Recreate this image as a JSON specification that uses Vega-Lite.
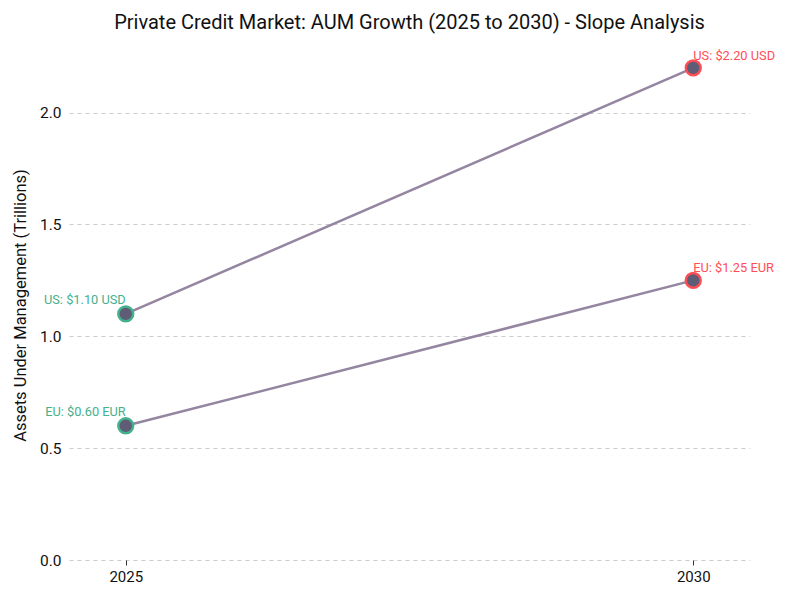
{
  "$schema": "https://vega.github.io/schema/vega-lite/v6.json",
  "autosize": "none",
  "width": 681,
  "height": 510,
  "padding": {"left": 69, "top": 50, "right": 50, "bottom": 40},
  "background": "white",
  "config": {
    "font": "Roboto",
    "view": {"stroke": null}
  },
  "title": {
    "text": "Private Credit Market: AUM Growth (2025 to 2030) - Slope Analysis",
    "fontSize": 20,
    "fontWeight": "normal",
    "color": "#111111",
    "offset": 17
  },
  "data": {
    "values": [
      {"region": "US", "year": 2025, "value": 1.10, "label": "US: $1.10 USD"},
      {"region": "US", "year": 2030, "value": 2.20, "label": "US: $2.20 USD"},
      {"region": "EU", "year": 2025, "value": 0.60, "label": "EU: $0.60 EUR"},
      {"region": "EU", "year": 2030, "value": 1.25, "label": "EU: $1.25 EUR"}
    ]
  },
  "encoding": {
    "x": {
      "field": "year", "type": "quantitative",
      "scale": {"domain": [2024.5, 2030.5], "nice": false, "zero": false},
      "axis": {"values": [2025, 2030], "format": "d", "title": null, "grid": false, "domain": false,
               "tickColor": "#333", "tickSize": 5, "labelFontSize": 15, "labelColor": "#111", "labelPadding": 4}
    },
    "y": {
      "field": "value", "type": "quantitative",
      "scale": {"domain": [0, 2.28], "nice": false},
      "axis": {"values": [0, 0.5, 1, 1.5, 2], "format": ".1f", "title": "Assets Under Management (Trillions)",
               "titleFontSize": 16.5, "titleFontWeight": "normal", "titleColor": "#111",
               "labelFontSize": 15.5, "labelColor": "#111", "ticks": false, "domain": false,
               "gridDash": [4, 4], "gridColor": "#cccccc", "labelPadding": 8, "titlePadding": 11}
    }
  },
  "layer": [
    {
      "mark": {"type": "line", "color": "#9485a0", "strokeWidth": 2.5},
      "encoding": {"detail": {"field": "region"}}
    },
    {
      "mark": {"type": "point", "filled": true, "size": 220, "fill": "#5f5c75", "strokeWidth": 2.5, "opacity": 1},
      "encoding": {
        "stroke": {"field": "year", "type": "nominal", "scale": {"domain": [2025, 2030], "range": ["#45b08c", "#ff4d55"]}, "legend": null}
      }
    },
    {
      "transform": [{"filter": "datum.year == 2025"}],
      "mark": {"type": "text", "align": "right", "baseline": "alphabetic", "dx": 0, "dy": -10, "fontSize": 12.8, "color": "#45b08c"},
      "encoding": {"text": {"field": "label"}}
    },
    {
      "transform": [{"filter": "datum.year == 2030"}],
      "mark": {"type": "text", "align": "left", "baseline": "alphabetic", "dx": 0, "dy": -8, "fontSize": 12.8, "color": "#ff4d55"},
      "encoding": {"text": {"field": "label"}}
    }
  ]
}
